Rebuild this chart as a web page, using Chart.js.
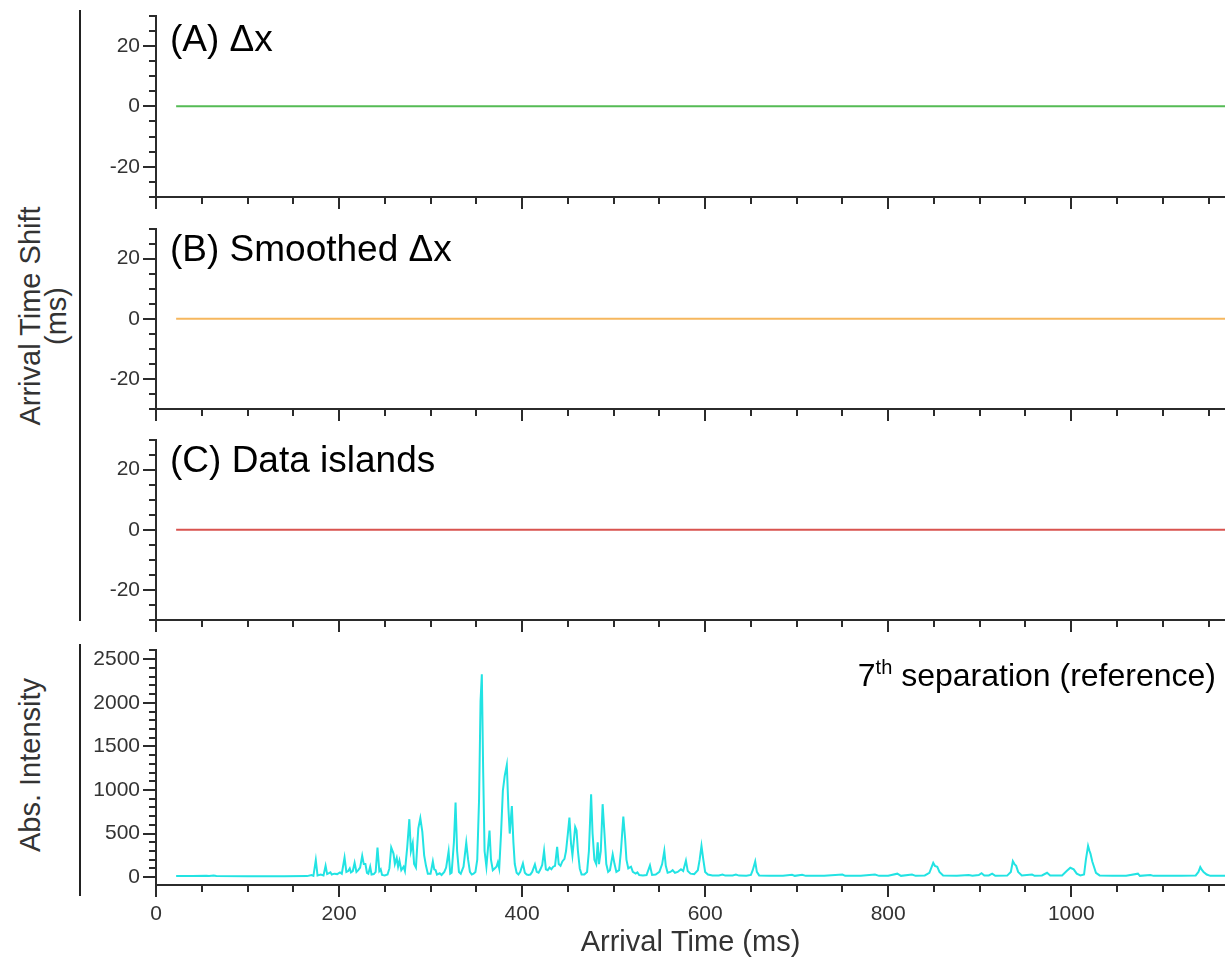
<!DOCTYPE html>
<html>
<head>
<meta charset="UTF-8">
<title>Arrival time shift</title>
<script src="https://cdn.jsdelivr.net/npm/chart.js"></script>
<style>
body{margin:0;background:#fff;}
#wrap{position:relative;width:1225px;height:963px;overflow:hidden;font-family:"Liberation Sans",Arial,sans-serif;}
canvas{position:absolute;left:80px;}
.lbl{position:absolute;white-space:nowrap;color:#000;}
.bar{position:absolute;left:79px;width:2px;background:#222;}
.ytitle{position:absolute;transform:translate(-50%,-50%) rotate(-90deg);text-align:center;font-size:29px;line-height:26px;color:#333;white-space:nowrap;}
</style>
<script>
const arrivalTimes = [
  22, 40, 55, 58, 63, 66, 100, 140, 165, 170, 172, 174.6, 176.5, 180, 183, 185.3, 187, 189, 190.6, 192,
  195, 198, 201, 203, 206, 208, 210, 211.7, 213, 215, 217, 219, 221, 223, 225.3, 227, 228.8, 230.5, 232, 234,
  235.5, 238, 240, 242, 244, 245.5, 247, 250, 253, 255, 257, 259.5, 261, 263, 264.5, 266, 268, 270.5, 272, 274.5,
  276.8, 278.5, 280.5, 282, 284, 286.6, 288.8, 291, 293, 295, 297, 300, 302.5, 304, 305.5, 307, 310, 312, 315, 317,
  319.7, 321.5, 323, 325.5, 327.3, 329, 331, 333, 336, 339, 341, 343, 345, 347, 349, 351, 353, 354.6, 356, 357.5,
  359, 361, 364.4, 366, 368, 370, 372, 373.5, 375, 377, 379, 381, 383.3, 385, 386.5, 388.8, 390.5, 392, 394, 396,
  398, 400.9, 403, 405, 407, 409, 411, 414, 416, 418, 420, 422, 424, 426, 428, 430, 432, 434, 436, 438.3,
  440, 442, 444, 446.3, 448, 450, 451.7, 453.5, 455, 458, 459.5, 461, 463, 465, 468, 471, 473, 475.4, 477, 479,
  481, 482.6, 484, 486, 488, 490, 492, 494, 496, 499, 501, 503, 506, 508, 510.6, 512.5, 514, 516, 519, 521,
  524, 526, 528, 532, 536, 539.7, 542, 546, 550, 553, 555.4, 557, 559, 562, 564.5, 567, 570, 573.6, 576, 579,
  581, 584, 588, 592, 594, 596, 598, 600, 603, 608, 615, 619, 622, 630, 633.6, 637, 645, 650, 652, 654.7,
  656.5, 659, 670, 685, 695, 698, 706, 710, 730, 750, 753, 770, 785.6, 790, 800, 810, 814, 826, 830, 840,
  845, 849.2, 851, 853.6, 856, 860, 875, 888, 892, 899, 902, 905, 910, 913.6, 917, 930, 934, 936.2, 938, 939.8,
  942, 946, 957.2, 960, 968, 973.6, 977, 990, 995, 999, 1002.7, 1006, 1010, 1014, 1016, 1018.4, 1020, 1021, 1023, 1024.5,
  1027, 1031, 1045, 1060, 1072.9, 1075, 1086.4, 1090, 1120, 1136, 1139, 1141, 1143, 1144.6, 1148, 1152, 1168
];
const absIntensity = [
  12, 12, 16, 12, 18, 12, 10, 10, 12, 25, 15, 195, 20, 30, 20, 130, 35, 45, 55, 30,
  40, 35, 55, 40, 225, 60, 70, 100, 55, 70, 165, 60, 80, 110, 245, 150, 150, 50, 40, 120,
  30, 35, 60, 340, 70, 90, 25, 20, 30, 100, 340, 270, 150, 220, 120, 190, 80, 120, 70, 345,
  665, 300, 390, 150, 110, 560, 676, 520, 250, 130, 40, 40, 180, 90, 80, 30, 45, 25, 60, 110,
  295, 40, 50, 400, 855, 300, 60, 40, 120, 396, 200, 60, 30, 40, 60, 200, 900, 2020, 2328, 1200,
  300, 120, 534, 200, 80, 100, 120, 170, 100, 500, 994, 1162, 1286, 800, 500, 815, 400, 150, 50, 30,
  60, 157, 50, 30, 25, 30, 60, 145, 60, 50, 90, 140, 303, 90, 80, 110, 90, 120, 130, 348,
  150, 130, 180, 210, 300, 500, 684, 380, 250, 575, 535, 300, 100, 30, 30, 60, 300, 950, 500, 200,
  150, 400, 150, 300, 837, 500, 150, 60, 80, 262, 150, 60, 80, 300, 695, 450, 200, 100, 120, 60,
  40, 55, 25, 20, 25, 135, 25, 30, 60, 150, 302, 130, 50, 60, 80, 50, 60, 90, 70, 190,
  70, 40, 35, 80, 200, 358, 200, 60, 30, 20, 20, 30, 18, 20, 30, 18, 15, 25, 80, 180,
  60, 20, 15, 15, 28, 15, 28, 15, 15, 30, 15, 15, 30, 15, 15, 40, 15, 30, 15, 20,
  50, 165, 130, 120, 60, 20, 15, 25, 15, 25, 45, 20, 20, 40, 15, 18, 60, 183, 150, 130,
  60, 20, 30, 15, 20, 50, 20, 20, 70, 108, 90, 40, 20, 30, 200, 358, 300, 270, 180, 130,
  50, 20, 15, 15, 40, 15, 25, 15, 15, 20, 60, 115, 80, 60, 30, 15, 15
];

// arrival time shift panels (flat at zero)
const shiftTimes = [22, 1168];
const deltaX = [0, 0];
const smoothedDeltaX = [0, 0];
const dataIslands = [0, 0];

// ticks
const xLabelTicks = [0, 200, 400, 600, 800, 1000];
const xMinorTicks = [0, 50, 100, 150, 200, 250, 300, 350, 400, 450, 500, 550, 600, 650, 700, 750, 800, 850, 900, 950, 1000, 1050, 1100, 1150];
const shiftLabelTicks = [-20, 0, 20];
const shiftMinorTicks = [-30, -25, -20, -15, -10, -5, 0, 5, 10, 15, 20, 25, 30];
const intensityLabelTicks = [0, 500, 1000, 1500, 2000, 2500];
const intensityMinorTicks = [0, 100, 200, 300, 400, 500, 600, 700, 800, 900, 1000, 1100, 1200, 1300, 1400, 1500, 1600, 1700, 1800, 1900, 2000, 2100, 2200, 2300, 2400, 2500, 2600];
</script>
</head>
<body>
<div id="wrap">
  <div class="bar" style="top:10px;height:611px"></div>
  <div class="bar" style="top:644px;height:252px"></div>

  <canvas id="panelA" width="1145" height="217" style="top:0px"></canvas>
  <canvas id="panelB" width="1145" height="216" style="top:213px"></canvas>
  <canvas id="panelC" width="1145" height="216" style="top:424px"></canvas>
  <canvas id="panelD" width="1145" height="329" style="top:634px"></canvas>

  <div class="lbl" style="left:170px;top:20px;font-size:37px;line-height:37px">(A) Δx</div>
  <div class="lbl" style="left:170px;top:230px;font-size:37px;line-height:37px">(B) Smoothed Δx</div>
  <div class="lbl" style="left:170px;top:441px;font-size:37px;line-height:37px">(C) Data islands</div>
  <div class="lbl" style="right:9px;top:651px;font-size:32px;line-height:32px">7<sup style="font-size:20px;vertical-align:12px">th</sup> separation (reference)</div>

  <div class="ytitle" style="left:43px;top:316px">Arrival Time Shift<br>(ms)</div>
  <div class="ytitle" style="left:30px;top:765px">Abs. Intensity</div>
</div>

<script>
Chart.defaults.font.family = '"Liberation Sans", Arial, sans-serif';

const axisColor = '#2b2b2b';

// draws major / minor tick marks through the chart's own scales
const tickMarks = {
  id: 'tickMarks',
  afterDraw(chart, args, opts) {
    const ctx = chart.ctx, area = chart.chartArea;
    const xs = chart.scales.x, ys = chart.scales.y;
    ctx.save();
    ctx.strokeStyle = axisColor;
    ctx.lineWidth = 2;
    opts.xMinor.forEach(v => {
      const px = Math.round(xs.getPixelForValue(v));
      const len = opts.xMajor.includes(v) ? 12 : 7;
      ctx.beginPath();
      ctx.moveTo(px, area.bottom);
      ctx.lineTo(px, area.bottom + len);
      ctx.stroke();
    });
    opts.yMinor.forEach(v => {
      const py = Math.round(ys.getPixelForValue(v));
      const len = opts.yMajor.includes(v) ? 13 : 7;
      ctx.beginPath();
      ctx.moveTo(area.left, py);
      ctx.lineTo(area.left - len, py);
      ctx.stroke();
    });
    ctx.restore();
  }
};

function makePanel(id, datasets, yMin, yMax, yLabels, yMinor, bottom) {
  return new Chart(document.getElementById(id), {
    type: 'line',
    data: { datasets: datasets },
    options: {
      responsive: false,
      animation: false,
      devicePixelRatio: 1,
      layout: { padding: { top: 10, right: 0, bottom: 0, left: 0 } },
      elements: { point: { radius: 0 }, line: { tension: 0 } },
      plugins: {
        legend: { display: false },
        tooltip: { enabled: false },
        tickMarks: { xMinor: xMinorTicks, xMajor: xLabelTicks, yMinor: yMinor, yMajor: yLabels }
      },
      scales: {
        x: {
          type: 'linear', min: 0, max: 1168,
          grid: { display: false, drawTicks: true, tickLength: 12 },
          border: { display: true, color: axisColor, width: 2 },
          ticks: { display: bottom, font: { size: 21 }, color: '#333', padding: 5, callback: v => String(v) },
          afterBuildTicks: s => { s.ticks = xLabelTicks.map(v => ({ value: v })); },
          afterFit: s => { s.height = bottom ? 78 : 20; },
          title: {
            display: bottom, text: 'Arrival Time (ms)', color: '#333',
            font: { size: 29 }, padding: { top: 0, bottom: 3 }
          }
        },
        y: {
          type: 'linear', min: yMin, max: yMax,
          grid: { display: false, drawTicks: true, tickLength: 13 },
          border: { display: true, color: axisColor, width: 2 },
          ticks: { font: { size: 21 }, color: '#333', padding: 3, callback: v => String(v) },
          afterBuildTicks: s => { s.ticks = yLabels.map(v => ({ value: v })); },
          afterFit: s => { s.width = 76; }
        }
      }
    },
    plugins: [tickMarks]
  });
}

function series(xs, ys, color) {
  return {
    data: xs.map((t, i) => ({ x: t, y: ys[i] })),
    borderColor: color, borderWidth: 2, pointRadius: 0, fill: false
  };
}

// plot areas: A 12..197, B 223..409, C 434..620, D 644..885
makePanel('panelA', [series(shiftTimes, deltaX, '#55bb55')], -30, 30, shiftLabelTicks, shiftMinorTicks, false);
makePanel('panelB', [series(shiftTimes, smoothedDeltaX, '#f6b75e')], -30, 30, shiftLabelTicks, shiftMinorTicks, false);
makePanel('panelC', [series(shiftTimes, dataIslands, '#d9534f')], -30, 30, shiftLabelTicks, shiftMinorTicks, false);
makePanel('panelD', [series(arrivalTimes, absIntensity, '#22e3e3')], -90, 2610, intensityLabelTicks, intensityMinorTicks, true);
</script>
</body>
</html>
